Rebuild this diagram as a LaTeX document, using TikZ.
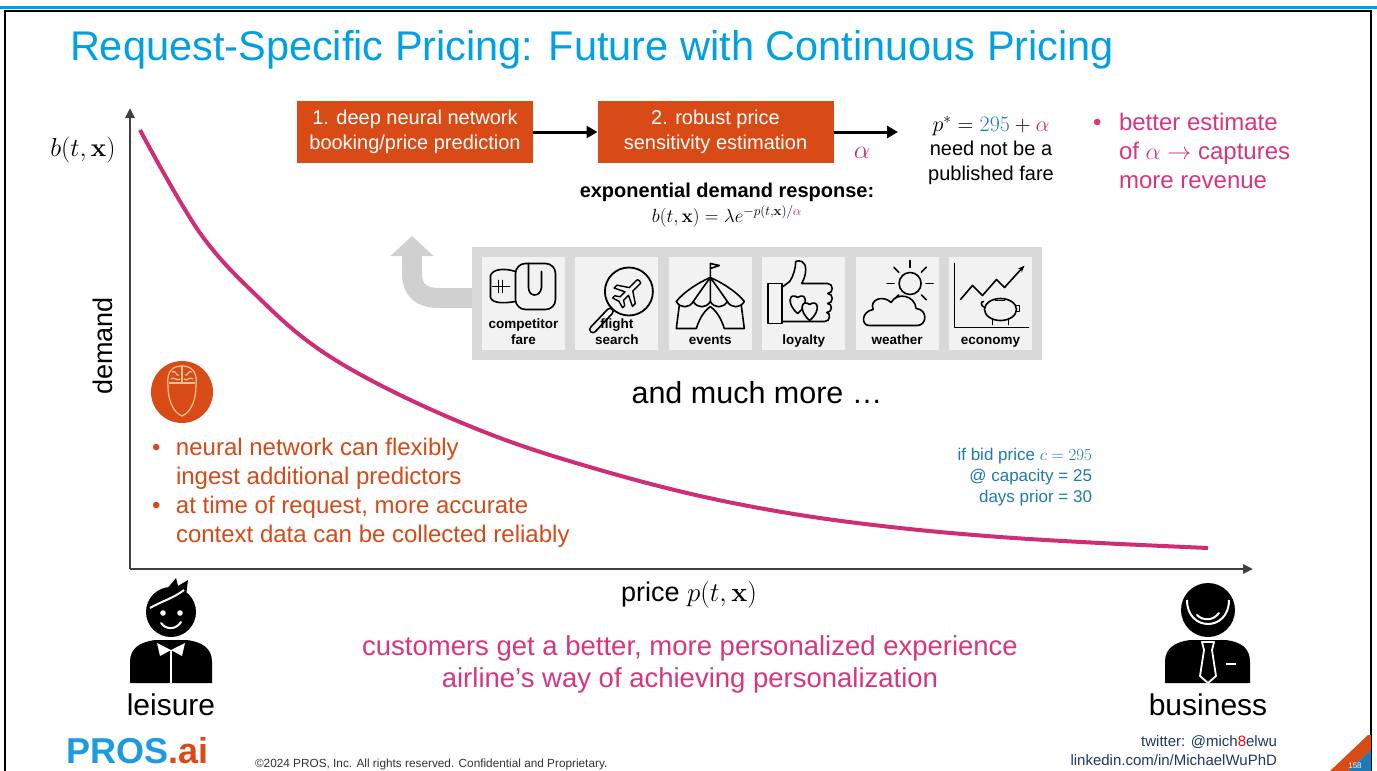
\RequirePackage{fix-cm}
\documentclass[tikz,border=0pt]{standalone}
\usepackage{amsmath}
\usepackage[no-math]{fontspec}
\setmainfont{Liberation Sans}
\usepackage{tikz}
\usetikzlibrary{arrows.meta,positioning,calc}
\definecolor{titleblue}{RGB}{0,160,227}
\definecolor{procorange}{RGB}{216,75,22}
\definecolor{textorange}{RGB}{212,74,24}
\definecolor{textpink}{RGB}{214,54,126}
\definecolor{curvepink}{RGB}{206,46,118}
\definecolor{bidblue}{RGB}{30,122,180}
\definecolor{navy}{RGB}{31,56,100}
\definecolor{axisgray}{RGB}{64,64,64}
\definecolor{panelgray}{RGB}{217,217,217}
\definecolor{tilegray}{RGB}{242,242,242}
\definecolor{liftgray}{RGB}{208,208,208}
\definecolor{peach}{RGB}{246,196,150}
\definecolor{logoblue}{RGB}{28,155,225}
\newcommand{\fsz}[2]{\fontsize{#1}{#2}\selectfont}

\begin{document}
\begin{tikzpicture}[x=1pt, y=-1pt,
  every node/.style={inner sep=0pt, outer sep=0pt},
  procbox/.style={fill=procorange, text=white, minimum width=236pt, minimum height=62pt, align=center, font=\fsz{20}{25}},
  flow/.style={line width=3pt, -{Triangle[length=11pt, width=12pt]}},
  axis/.style={axisgray, line width=2.5pt, -{Triangle[length=10pt, width=9pt]}},
  tile/.style={fill=tilegray, minimum width=83pt, minimum height=93pt},
  tilelabel/.style={anchor=base, font={\bfseries\fsz{13.5}{16}}},
  icon/.style={line width=1.6pt, line join=round, line cap=round}]
\clip (0,0) rectangle (1377,771);
\fill[white] (0,0) rectangle (1377,771);
\draw[titleblue, line width=3pt] (0,7) -- (1377,7);
\draw[line width=2.5pt] (5,790) -- (5,11) -- (1371,11) -- (1371,790);

\node[anchor=base west, text=titleblue, font=\fsz{41.5}{48}] (title) at (70,60) {Request-Specific Pricing: Future with Continuous Pricing};

% demand curve
\coordinate (origin) at (130,569);
\coordinate (ytop) at (130,108);
\coordinate (xend) at (1253,569);
\draw[axis] (origin) -- (ytop);
\draw[axis] (origin) -- (xend);
\node[font=\fsz{26}{30}] (bvar) at (83,150) {$b(t,\mathbf{x})$};
\node[rotate=90, font=\fsz{27}{30}] (ylab) at (103,346) {demand};
\node[anchor=base, font=\fsz{27}{30}] (xlab) at (689,601) {price $p(t,\mathbf{x})$};
\draw[curvepink, line width=4pt] plot[smooth, tension=0.6] coordinates {(140,130) (200,233) (260,299) (320,350) (400,395) (500,438) (600,470) (700,496) (800,515) (900,528) (1000,537) (1100,543) (1208,548)};

% pipeline
\node[procbox] (dnn) at (415,132) {1. deep neural network\\booking/price prediction};
\node[procbox] (sens) at (715.5,132) {2. robust price\\sensitivity estimation};
\coordinate (out) at (898,132);
\draw[flow] (dnn) -- (sens);
\draw[flow] (sens) -- (out);
\node[text=curvepink, font=\fsz{26}{30}] (alpha) at (862,153) {$\alpha$};
\node[align=center, font=\fsz{20}{24.5}] (pstar) at (991,150) {{\fsz{22}{24}$p^*=\textcolor{bidblue}{295}+\textcolor{curvepink}{\alpha}$}\\need not be a\\published fare};
\node[anchor=north west, text=textpink, font=\fsz{24}{29}] (gain) at (1093,110) {\begin{tabular}{@{}p{26pt}@{}l@{}}\textbullet & better estimate\\ & of $\alpha\rightarrow$ captures\\ & more revenue\end{tabular}};
\node[align=center, font=\fsz{20}{25}] (expo) at (727,205) {\textbf{exponential demand response:}\\{\fsz{19}{20}$b(t,\mathbf{x})=\lambda e^{-p(t,\mathbf{x})/\textcolor{curvepink}{\alpha}}$}};

% predictors
\node[fill=panelgray, minimum width=570pt, minimum height=113pt] (panel) at (757,303.5) {};
\coordinate (lift) at (412,236);
\draw[liftgray, line width=20pt, -{Triangle[length=20pt, width=42pt]}] ([yshift=5.5pt]panel.west) -- (440,298) .. controls (420,298) and (412,290) .. (412,272) -- (lift);
\foreach \i in {1,...,6}
  \node[tile] (tile\i) at (523.5+93.4*\i-93.4,303.5) {};
\begin{scope}[shift={(tile1.center)}, icon]
  \draw[rounded corners=10pt] (-8,-40) rectangle (32,6);
  \draw (5,-40) -- (5,-16) .. controls (5,-6) and (17,-6) .. (18,-16) -- (18,-32);
  \draw (-8,-32) .. controls (-20,-36) and (-31,-34) .. (-33,-28) -- (-33,-6) .. controls (-31,0) and (-20,0) .. (-8,-2);
  \draw (-25,-23) -- (-25,-11) (-21,-23) -- (-21,-11) (-31,-17) -- (-14,-17);
\end{scope}
\begin{scope}[shift={(tile2.center)}, icon]
  \draw[line width=8pt] (-7,8) -- (-24,26);
  \draw[tilegray, line width=4.4pt] (-7,8) -- (-24,26);
  \draw[line width=1.8pt] (12,-12) circle (24pt);
  \begin{scope}[shift={(12,-12)}, rotate=45, line width=1.4pt]
    \draw (15,0) .. controls (15,2.5) .. (11,2.5) -- (3,2.5) -- (-4,13) -- (-8,13) -- (-3,2.5) -- (-10,2.5) -- (-13,7) -- (-16,7) -- (-14,0) -- (-16,-7) -- (-13,-7) -- (-10,-2.5) -- (-3,-2.5) -- (-8,-13) -- (-4,-13) -- (3,-2.5) -- (11,-2.5) .. controls (15,-2.5) .. (15,0) -- cycle;
  \end{scope}
\end{scope}
\begin{scope}[shift={(tile3.center)}, icon]
  \draw (0,-26) -- (0,-40) -- (9,-38) -- (0,-35);
  \draw (-34,-2) .. controls (-28,-10) and (-14,-20) .. (0,-26) .. controls (14,-20) and (28,-10) .. (34,-2);
  \draw (-34,-2) .. controls (-30,5) and (-21,5) .. (-17,-2) .. controls (-13,5) and (-4,5) .. (0,-2) .. controls (4,5) and (13,5) .. (17,-2) .. controls (21,5) and (30,5) .. (34,-2);
  \draw (0,-26) .. controls (-8,-15) .. (-17,-2) (0,-26) -- (0,-2) (0,-26) .. controls (8,-15) .. (17,-2);
  \draw (-31,2) -- (-34,25) -- (-14,25) .. controls (-10,12) and (-4,6) .. (0,3) .. controls (4,6) and (10,12) .. (14,25) -- (34,25) -- (31,2);
\end{scope}
\begin{scope}[shift={(tile4.center)}, icon]
  \draw (-36,-20) rectangle (-22,20);
  \draw (-22,-16) -- (-14,-22) .. controls (-10,-28) and (-8,-36) .. (-8,-42) .. controls (-4,-44) and (2,-42) .. (2,-34) .. controls (2,-28) and (0,-24) .. (-2,-20) -- (24,-20) .. controls (30,-20) and (30,-10) .. (24,-10) .. controls (30,-10) and (30,0) .. (24,0) .. controls (29,0) and (29,9) .. (23,9) .. controls (27,9) and (27,18) .. (21,18) -- (-22,18);
  \draw (-6,10) .. controls (-18,0) and (-14,-12) .. (-6,-6) .. controls (2,-12) and (6,0) .. (-6,10) -- cycle;
  \draw[fill=tilegray] (6,17) .. controls (-6,7) and (-2,-5) .. (6,1) .. controls (14,-5) and (18,7) .. (6,17) -- cycle;
\end{scope}
\begin{scope}[shift={(tile5.center)}, icon]
  \draw (13,-20) circle (11pt);
  \foreach \a in {0,45,...,315}
    \draw ($(13,-20)+(\a:16pt)$) -- ($(13,-20)+(\a:23pt)$);
  \draw[fill=tilegray] (-28,22) -- (20,22) .. controls (30,22) and (31,6) .. (19,5) .. controls (18,-8) and (0,-12) .. (-6,-1) .. controls (-14,-9) and (-28,-4) .. (-24,6) .. controls (-36,8) and (-36,22) .. (-28,22) -- cycle;
\end{scope}
\begin{scope}[shift={(tile6.center)}, icon]
  \draw (-36,-40) -- (-36,24) -- (38,24);
  \draw[-{Stealth[length=7pt]}] (-30,-4) -- (-18,-18) -- (-8,-8) -- (6,-24) -- (14,-16) -- (34,-38);
  \draw[fill=tilegray] (10,6) ellipse (16pt and 11pt);
  \draw (2,15) -- (2,21) (18,15) -- (18,21) (5,-3) -- (14,-3);
  \draw (26,2) -- (29,2) -- (29,8) -- (26,8);
  \draw (-6,4) .. controls (-10,2) and (-10,-2) .. (-7,-2);
\end{scope}
\foreach \name [count=\i] in {{competitor\\fare},{flight\\search},events,loyalty,weather,economy}
  \node[tilelabel] (tag\i) at (523.5+93.4*\i-93.4,344) {\begin{tabular}[b]{@{}c@{}}\name\end{tabular}};
\node[anchor=base, font=\fsz{30.5}{32}] (more) at (757,403) {and much more …};

% neural network notes
\node[circle, fill=procorange, minimum size=62pt] (brain) at (182,392) {};
\begin{scope}[shift={(brain.center)}, peach, line width=1.2pt]
  \draw (-14,-6) .. controls (-16,-22) and (-8,-26) .. (0,-26) .. controls (8,-26) and (16,-22) .. (14,-6) .. controls (14,6) and (10,20) .. (0,24) .. controls (-10,20) and (-14,6) .. (-14,-6);
  \draw (-13,-9) -- (13,-9) (0,-26) -- (0,-9);
  \draw (-10,-20) .. controls (-6,-23) and (-6,-15) .. (-3,-17) (3,-17) .. controls (6,-15) and (6,-23) .. (10,-20);
  \draw (-11,-13) .. controls (-7,-16) and (-5,-10) .. (-2,-13) (2,-13) .. controls (5,-10) and (7,-16) .. (11,-13);
\end{scope}
\node[anchor=north west, text=textorange, font=\fsz{24}{29}] (notes) at (152,435) {\begin{tabular}{@{}p{24pt}@{}l@{}}\textbullet & neural network can flexibly\\ & ingest additional predictors\\ \textbullet & at time of request, more accurate\\ & context data can be collected reliably\end{tabular}};
\node[anchor=base east, text=bidblue, font=\fsz{17}{21}] (bid) at (1092,502) {\begin{tabular}[b]{@{}r@{}}if bid price $c=295$\\@ capacity = 25\\days prior = 30\end{tabular}};

% customers
\begin{scope}
  \fill (130,683) -- (130,662) .. controls (130,648) and (140,642) .. (155,640) -- (187,640) .. controls (202,642) and (212,648) .. (212,662) -- (212,683) -- cycle;
  \fill[white] (171,650) -- (157,643) -- (160,656) -- cycle;
  \fill[white] (171,650) -- (185,643) -- (182,656) -- cycle;
  \draw[white, line width=1.5pt] (171,650) -- (171,683);
  \fill (171,612) circle (25pt);
  \fill (166,590) -- (176,578) -- (178,586) -- (188,580) -- (186,596) -- cycle;
  \draw[white, line width=2pt] (150,608) .. controls (160,602) and (174,598) .. (184,590);
  \fill[white] (163,613) circle (2.8pt) (180,613) circle (2.8pt);
  \draw[white, line width=2pt, line cap=round] (161,623) .. controls (166,630) and (176,630) .. (181,622);
\end{scope}
\begin{scope}
  \fill (1165,683) -- (1165,662) .. controls (1165,648) and (1175,642) .. (1190,640) -- (1226,640) .. controls (1241,642) and (1250,648) .. (1250,662) -- (1250,683) -- cycle;
  \draw[white, line width=1.8pt, line join=round] (1202,642) -- (1214,642) -- (1212,650) -- (1216,676) -- (1208,683) -- (1200,676) -- (1204,650) -- cycle;
  \draw[white, line width=2.5pt] (1226,664) -- (1236,664);
  \fill (1208,610) circle (27pt);
  \draw[white, line width=2pt] (1187,600) .. controls (1187,632) and (1229,632) .. (1229,600);
  \draw[white, line width=2pt, line cap=round] (1197,615) .. controls (1203,621) and (1213,621) .. (1219,613);
\end{scope}
\node[anchor=base, font=\fsz{30}{32}] (leisure) at (171,715) {leisure};
\node[anchor=base, font=\fsz{30}{32}] (business) at (1208,715) {business};
\node[align=center, text=textpink, font=\fsz{27.5}{32}] (tagline) at (690,664) {customers get a better, more personalized experience\\airline’s way of achieving personalization};

% footer
\node[anchor=base west, font={\bfseries\fsz{36}{36}}] (logo) at (66,763) {\textcolor{logoblue}{PROS}\textcolor{procorange}{.ai}};
\node[anchor=base west, text=black!80, font=\fsz{11.8}{13}] (legal) at (255,767) {\textcopyright2024 PROS, Inc. All rights reserved. Confidential and Proprietary.};
\node[anchor=base east, text=navy, font=\fsz{15}{19}] (social) at (1277,765) {\begin{tabular}[b]{@{}r@{}}twitter: @mich\textcolor{red}{8}elwu\\linkedin.com/in/MichaelWuPhD\end{tabular}};
\fill[procorange] (1330,771) -- (1368,735) -- (1371,735) -- (1371,750) -- (1348,771) -- cycle;
\fill[bidblue] (1348,771) -- (1371,750) -- (1371,771) -- cycle;
\node[text=white, font=\fsz{8}{9}] (page) at (1355,766) {158};
\end{tikzpicture}
\end{document}
